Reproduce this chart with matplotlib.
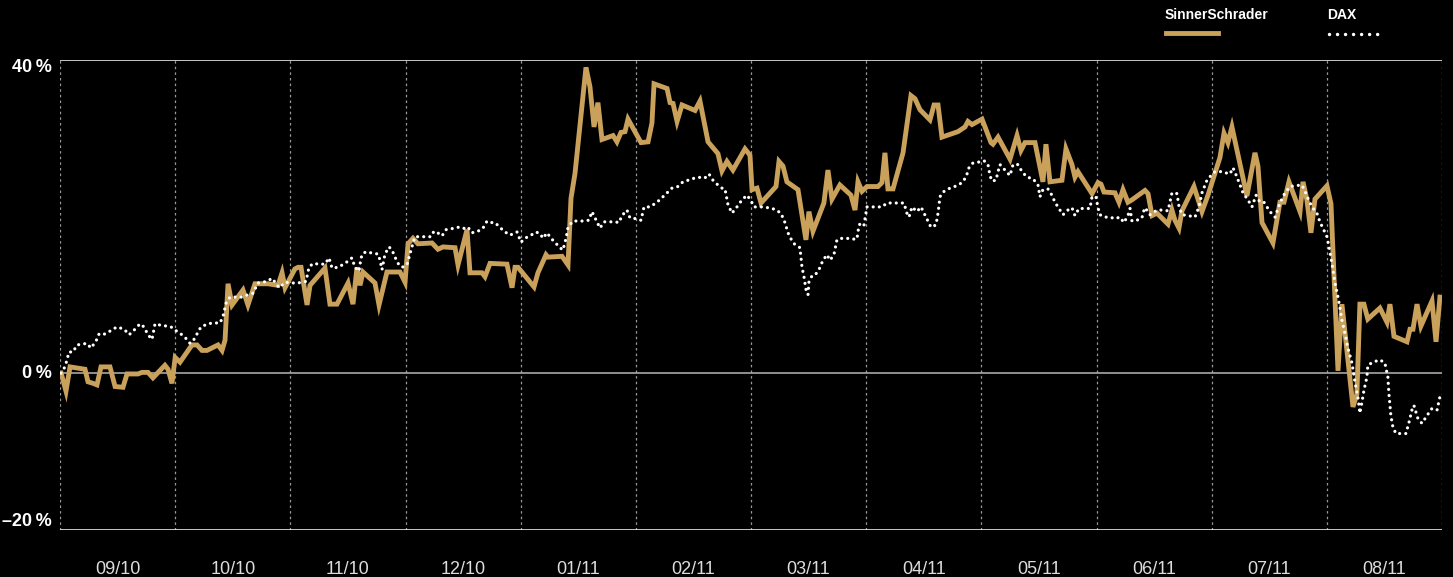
import matplotlib.pyplot as plt
from matplotlib.lines import Line2D

# month positions (0 = start of 09/10) and performance in percent
ss_month = [0.01, 0.052, 0.087, 0.217, 0.243, 0.287, 0.321, 0.356, 0.434, 0.478,
            0.547, 0.582, 0.677, 0.712, 0.764, 0.807, 0.911, 0.938, 0.972, 1.0,
            1.042, 1.146, 1.190, 1.233, 1.276, 1.372, 1.407, 1.433, 1.459, 1.494,
            1.589, 1.632, 1.693, 1.806, 1.893, 1.928, 1.954, 2.040, 2.067, 2.093,
            2.145, 2.171, 2.301, 2.344, 2.405, 2.501, 2.544, 2.579, 2.605, 2.631,
            2.735, 2.770, 2.839, 2.952, 2.996, 3.022, 3.065, 3.108, 3.230, 3.282,
            3.326, 3.430, 3.456, 3.534, 3.560, 3.664, 3.690, 3.734, 3.881, 3.925,
            3.951, 3.977, 4.116, 4.150, 4.220, 4.237, 4.359, 4.411, 4.437, 4.472,
            4.567, 4.602, 4.637, 4.671, 4.706, 4.802, 4.836, 4.871, 4.906, 4.932,
            5.045, 5.106, 5.140, 5.158, 5.271, 5.297, 5.323, 5.358, 5.401, 5.514,
            5.557, 5.627, 5.713, 5.748, 5.791, 5.843, 5.948, 5.991, 6.009, 6.052,
            6.087, 6.217, 6.243, 6.278, 6.312, 6.408, 6.477, 6.503, 6.538, 6.633,
            6.668, 6.703, 6.772, 6.868, 6.903, 6.929, 6.964, 7.007, 7.103, 7.137,
            7.163, 7.189, 7.233, 7.320, 7.389, 7.424, 7.467, 7.554, 7.589, 7.624,
            7.658, 7.797, 7.858, 7.884, 7.919, 8.006, 8.084, 8.101, 8.145, 8.249,
            8.310, 8.344, 8.379, 8.466, 8.535, 8.561, 8.596, 8.700, 8.735, 8.787,
            8.813, 8.839, 8.961, 9.013, 9.039, 9.065, 9.160, 9.195, 9.230, 9.273,
            9.308, 9.421, 9.447, 9.482, 9.525, 9.621, 9.655, 9.681, 9.716, 9.742,
            9.846, 9.916, 9.968, 10.072, 10.107, 10.141, 10.176, 10.306, 10.376, 10.402,
            10.437, 10.532, 10.593, 10.628, 10.671, 10.767, 10.793, 10.827, 10.862, 10.897,
            11.001, 11.036, 11.097, 11.131, 11.227, 11.261, 11.287, 11.322, 11.356, 11.461,
            11.522, 11.548, 11.583, 11.696, 11.722, 11.748, 11.783, 11.817, 11.913, 11.948,
            11.982]
ss_pct = [0.0, -2.3, 0.8, 0.5, -1.1, -1.3, -1.5, 0.8, 0.8, -1.7,
          -1.8, -0.1, -0.1, 0.1, 0.1, -0.6, 1.0, 0.5, -1.3, 2.0,
          1.4, 3.6, 3.6, 2.9, 2.9, 3.6, 2.9, 4.2, 11.4, 8.7,
          10.6, 8.7, 11.4, 11.4, 11.2, 12.8, 10.9, 13.3, 13.5, 13.5,
          8.7, 11.2, 13.4, 8.8, 8.8, 11.5, 8.8, 13.5, 11.2, 12.9,
          11.5, 8.7, 12.9, 12.9, 11.6, 16.5, 17.2, 16.5, 16.6, 15.8,
          16.1, 16.0, 13.8, 18.3, 12.8, 12.8, 12.3, 14.0, 13.9, 10.9,
          13.5, 13.5, 11.0, 12.8, 15.1, 14.8, 14.9, 13.8, 22.3, 25.5,
          39.0, 36.5, 31.4, 34.5, 29.8, 30.3, 29.5, 30.7, 30.8, 32.4,
          29.4, 29.5, 31.9, 36.9, 36.3, 34.5, 34.4, 32.1, 34.2, 33.5,
          34.7, 29.5, 28.0, 25.8, 27.0, 25.9, 28.6, 27.8, 23.4, 23.6,
          21.7, 23.8, 27.0, 26.4, 24.4, 23.4, 17.0, 20.6, 18.1, 21.7,
          25.9, 22.2, 24.0, 22.7, 20.8, 24.4, 23.2, 23.8, 23.8, 24.3,
          28.1, 23.5, 23.5, 28.1, 35.4, 35.0, 33.6, 32.3, 34.2, 34.2,
          30.1, 30.8, 31.4, 32.1, 31.7, 32.4, 29.4, 29.2, 30.1, 27.3,
          30.3, 28.4, 29.4, 29.4, 24.4, 29.2, 24.4, 24.6, 28.6, 26.6,
          25.0, 25.7, 22.9, 24.3, 24.1, 23.1, 23.0, 21.8, 23.4, 21.8,
          22.1, 23.3, 22.9, 20.1, 20.4, 19.0, 20.8, 19.5, 18.5, 20.7,
          23.8, 20.6, 22.7, 27.5, 30.6, 29.4, 31.4, 22.6, 28.1, 26.4,
          19.2, 16.6, 21.8, 21.8, 24.4, 20.6, 24.4, 22.1, 17.9, 22.2,
          23.9, 21.6, 0.3, 8.8, -4.3, -2.7, 8.8, 8.8, 6.9, 8.3,
          6.5, 8.8, 4.7, 4.0, 5.6, 5.6, 8.8, 6.0, 9.2, 4.0,
          9.7]

dax_month = [0.009, 0.043, 0.061, 0.078, 0.113, 0.148, 0.191, 0.234, 0.269, 0.313,
             0.339, 0.373, 0.417, 0.469, 0.504, 0.564, 0.599, 0.625, 0.669, 0.695,
             0.729, 0.764, 0.799, 0.825, 0.877, 0.929, 0.964, 0.999, 1.059, 1.103,
             1.129, 1.163, 1.190, 1.224, 1.285, 1.328, 1.389, 1.415, 1.441, 1.476,
             1.519, 1.580, 1.632, 1.676, 1.719, 1.797, 1.841, 1.867, 1.902, 1.954,
             2.014, 2.067, 2.136, 2.162, 2.197, 2.249, 2.301, 2.336, 2.362, 2.414,
             2.475, 2.535, 2.561, 2.596, 2.614, 2.631, 2.666, 2.709, 2.761, 2.779,
             2.796, 2.822, 2.857, 2.883, 2.909, 2.935, 2.970, 3.013, 3.048, 3.082,
             3.117, 3.169, 3.221, 3.247, 3.291, 3.317, 3.352, 3.395, 3.447, 3.491,
             3.517, 3.543, 3.577, 3.629, 3.673, 3.708, 3.751, 3.777, 3.820, 3.855,
             3.907, 3.968, 4.003, 4.037, 4.090, 4.133, 4.168, 4.194, 4.229, 4.263,
             4.298, 4.333, 4.367, 4.394, 4.411, 4.454, 4.532, 4.593, 4.619, 4.663,
             4.689, 4.723, 4.775, 4.819, 4.854, 4.880, 4.923, 4.949, 5.001, 5.045,
             5.071, 5.123, 5.184, 5.236, 5.279, 5.314, 5.366, 5.409, 5.453, 5.514,
             5.574, 5.600, 5.635, 5.670, 5.705, 5.748, 5.774, 5.800, 5.835, 5.878,
             5.922, 5.965, 6.000, 6.026, 6.096, 6.148, 6.208, 6.260, 6.295, 6.321,
             6.365, 6.425, 6.443, 6.460, 6.477, 6.495, 6.503, 6.529, 6.556, 6.590,
             6.625, 6.660, 6.686, 6.720, 6.746, 6.790, 6.833, 6.877, 6.920, 6.938,
             6.964, 6.981, 7.007, 7.059, 7.137, 7.181, 7.224, 7.276, 7.328, 7.354,
             7.372, 7.398, 7.441, 7.476, 7.519, 7.563, 7.606, 7.624, 7.641, 7.667,
             7.728, 7.788, 7.832, 7.867, 7.893, 7.927, 7.971, 8.023, 8.058, 8.075,
             8.092, 8.127, 8.145, 8.162, 8.205, 8.249, 8.275, 8.318, 8.353, 8.396,
             8.448, 8.492, 8.509, 8.535, 8.578, 8.613, 8.639, 8.683, 8.709, 8.752,
             8.787, 8.813, 8.848, 8.891, 8.943, 8.961, 8.995, 9.013, 9.030, 9.073,
             9.117, 9.160, 9.204, 9.238, 9.273, 9.291, 9.308, 9.351, 9.395, 9.403,
             9.421, 9.464, 9.525, 9.577, 9.621, 9.655, 9.699, 9.716, 9.742, 9.794,
             9.855, 9.890, 9.916, 9.959, 9.994, 10.029, 10.090, 10.133, 10.159, 10.185,
             10.220, 10.246, 10.272, 10.315, 10.350, 10.385, 10.419, 10.454, 10.506, 10.550,
             10.593, 10.637, 10.680, 10.724, 10.784, 10.810, 10.836, 10.871, 10.914, 10.940,
             10.966, 11.001, 11.019, 11.036, 11.053, 11.071, 11.097, 11.114, 11.131, 11.157,
             11.183, 11.218, 11.244, 11.270, 11.287, 11.305, 11.322, 11.348, 11.356, 11.400,
             11.461, 11.504, 11.530, 11.539, 11.556, 11.574, 11.600, 11.652, 11.687, 11.713,
             11.739, 11.756, 11.791, 11.826, 11.870, 11.913, 11.957, 11.991]
dax_pct = [0.0, 0.8, 1.7, 2.7, 2.7, 3.6, 3.7, 3.8, 3.2, 4.1,
           5.0, 4.9, 5.2, 5.7, 5.9, 5.5, 4.9, 5.2, 5.9, 6.3,
           5.9, 4.9, 4.3, 6.3, 6.1, 6.0, 5.9, 5.5, 4.9, 4.3,
           3.8, 4.3, 5.0, 5.9, 6.3, 6.4, 6.4, 7.2, 8.9, 9.7,
           9.7, 9.7, 10.0, 10.2, 11.5, 11.7, 12.1, 11.6, 10.9, 11.6,
           11.5, 11.5, 11.7, 13.5, 14.0, 13.9, 13.9, 14.7, 13.4, 13.5,
           14.0, 14.7, 13.5, 13.0, 14.7, 15.3, 15.5, 15.3, 15.2, 14.4,
           13.2, 15.2, 16.1, 15.7, 14.8, 14.0, 13.5, 13.8, 15.7, 17.4,
           17.4, 17.4, 17.4, 18.1, 17.8, 17.5, 18.3, 18.4, 18.6, 18.6,
           18.4, 18.6, 17.9, 18.1, 18.5, 19.4, 19.2, 19.2, 18.6, 18.1,
           17.6, 18.0, 16.7, 17.2, 17.6, 18.0, 17.8, 17.2, 17.9, 17.2,
           16.7, 16.1, 15.7, 17.2, 18.6, 19.4, 19.4, 19.5, 20.6, 19.3,
           18.5, 19.3, 19.3, 19.3, 19.2, 20.1, 20.8, 19.8, 19.7, 19.5,
           21.2, 21.2, 21.8, 22.5, 23.1, 23.6, 23.8, 24.4, 24.6, 24.9,
           25.0, 24.9, 25.4, 24.6, 24.1, 23.6, 23.5, 21.5, 20.4, 21.2,
           22.1, 22.7, 22.0, 21.2, 21.2, 21.1, 20.9, 20.4, 19.2, 17.9,
           16.6, 16.0, 13.5, 12.3, 10.7, 10.0, 11.6, 12.4, 12.5, 13.2,
           14.4, 15.1, 14.4, 15.1, 17.0, 17.2, 17.2, 17.1, 17.1, 18.9,
           19.2, 18.9, 21.2, 21.2, 21.2, 21.7, 21.7, 21.7, 21.7, 20.4,
           19.9, 21.2, 20.6, 21.2, 19.9, 18.6, 18.9, 20.4, 22.5, 23.1,
           23.6, 23.9, 24.3, 25.0, 26.2, 26.8, 26.9, 27.1, 26.6, 25.2,
           24.5, 24.6, 25.7, 26.6, 25.9, 25.2, 26.6, 26.6, 25.7, 25.0,
           24.8, 24.0, 22.5, 23.4, 23.5, 22.7, 21.8, 20.8, 20.2, 20.8,
           21.1, 20.1, 21.0, 21.0, 21.0, 22.5, 22.5, 21.1, 20.2, 19.9,
           19.9, 19.7, 19.9, 19.2, 20.1, 21.0, 19.4, 19.5, 19.8, 20.4,
           21.1, 20.2, 20.8, 20.8, 20.7, 23.0, 22.9, 21.3, 20.2, 20.1,
           19.9, 21.2, 23.0, 24.6, 25.2, 25.7, 25.7, 25.5, 25.4, 26.2,
           25.0, 24.0, 23.0, 22.1, 21.2, 22.7, 21.8, 21.8, 20.6, 19.9,
           21.7, 23.0, 23.8, 23.9, 24.0, 23.2, 22.3, 21.2, 20.4, 19.3,
           18.5, 17.4, 16.1, 14.7, 13.2, 11.5, 9.7, 8.3, 6.8, 5.1,
           3.2, 1.3, -1.1, -3.1, -5.1, -3.7, -2.2, -0.5, 1.0, 1.4,
           1.7, 1.3, -0.5, -2.6, -5.4, -6.9, -7.7, -7.7, -7.7, -6.3,
           -4.7, -4.1, -5.8, -6.4, -5.4, -4.5, -4.7, -2.4]

month_labels = ["09/10", "10/10", "11/10", "12/10", "01/11", "02/11",
                "03/11", "04/11", "05/11", "06/11", "07/11", "08/11"]
y_ticks = [-20, 0, 40]
y_labels = ["\u201320\u2009%", "0\u2009%", "40\u2009%"]

GOLD = "#C9A15B"
plt.rcParams["font.family"] = ["Liberation Sans", "DejaVu Sans"]

fig = plt.figure(figsize=(14.53, 5.77), dpi=100, facecolor="black")
ax = fig.add_axes([60 / 1453, 1 - 530 / 577, 1382 / 1453, 470.5 / 577])
ax.set_facecolor("black")
ax.set_xlim(0, 12)
ax.set_ylim(-20, 40)

# monthly grid
for m in range(13):
    ax.axvline(m, color="#9a9a9a", lw=0.9, ls=(0, (2, 2.5)), zorder=1)
ax.axhline(40, color="#e8e8e8", lw=1.2, zorder=2)
ax.axhline(-20, color="#e8e8e8", lw=1.2, zorder=2)
ax.axhline(0, color="#a8a8a8", lw=1.2, zorder=2)

ax.plot(ss_month, ss_pct, color=GOLD, lw=3.5, solid_joinstyle="miter", zorder=3)
ax.plot(dax_month, dax_pct, color="white", lw=2.3, ls=(0, (0.01, 1.9)),
        dash_capstyle="round", zorder=4)

for s in ax.spines.values():
    s.set_visible(False)

ax.set_yticks(y_ticks)
ax.set_yticklabels(y_labels, color="white", fontsize=13, fontweight="bold")
for lab, va in zip(ax.get_yticklabels(), ["bottom", "center", "top"]):
    lab.set_va(va)
ax.tick_params(axis="y", length=0, pad=6)

ax.set_xticks([m + 0.5 for m in range(12)])
ax.set_xticklabels(month_labels, color="#dddddd", fontsize=13)
ax.tick_params(axis="x", length=0, pad=22)

# legend above the plot
fig.text(1165 / 1453, 1 - 15 / 577, "SinnerSchrader", color="white",
         fontsize=10, fontweight="bold", va="center", ha="left")
fig.text(1327 / 1453, 1 - 15 / 577, "DAX", color="white",
         fontsize=10, fontweight="bold", va="center", ha="left")
fig.add_artist(Line2D([1166 / 1453, 1218 / 1453], [1 - 33 / 577, 1 - 33 / 577],
                      color=GOLD, lw=3.5, transform=fig.transFigure))
fig.add_artist(Line2D([1329 / 1453, 1385 / 1453], [1 - 34 / 577, 1 - 34 / 577],
                      color="white", lw=2.5, ls=(0, (0.01, 2.3)),
                      dash_capstyle="round", transform=fig.transFigure))

fig.savefig("out.png", dpi=100, facecolor="black")
